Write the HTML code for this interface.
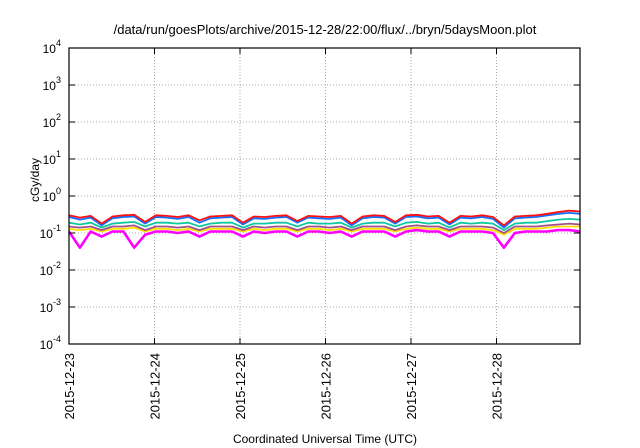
<!DOCTYPE html>
<html><head><meta charset="utf-8"><style>
html,body{margin:0;padding:0;background:#fff;}
svg{display:block;font-family:"Liberation Sans",sans-serif;}
</style></head><body>
<svg id="chart" width="640" height="448" viewBox="0 0 640 448">
<text x="325" y="34" font-size="13" text-anchor="middle">/data/run/goesPlots/archive/2015-12-28/22:00/flux/../bryn/5daysMoon.plot</text>
<g id="grid"></g>
<g id="series"></g>
<rect x="69" y="48" width="511" height="296" fill="none" stroke="#000" stroke-width="1.2"/>
<g id="axes"></g>
<text transform="translate(39,180) rotate(-90)" font-size="12" text-anchor="middle">cGy/day</text>
<text x="325" y="443" font-size="12" text-anchor="middle">Coordinated Universal Time (UTC)</text>
</svg>
<script>
const dayLabels=["2015-12-23","2015-12-24","2015-12-25","2015-12-26","2015-12-27","2015-12-28"];
const yExponents=[-4,-3,-2,-1,0,1,2,3,4];
const seriesColors=["#ff00ff","#ffe000","#a0508c","#10c8a0","#1070ff","#ff1010"];
const red=[0.30,0.26,0.29,0.18,0.28,0.30,0.31,0.20,0.30,0.29,0.27,0.30,0.22,0.28,0.29,0.30,0.19,0.28,0.27,0.29,0.30,0.21,0.29,0.28,0.27,0.29,0.18,0.28,0.30,0.29,0.20,0.30,0.31,0.28,0.29,0.19,0.29,0.28,0.30,0.27,0.16,0.28,0.29,0.30,0.33,0.37,0.40,0.38];
const blue=[0.27,0.23,0.26,0.16,0.25,0.27,0.28,0.18,0.27,0.26,0.24,0.27,0.19,0.25,0.26,0.27,0.17,0.25,0.24,0.26,0.27,0.19,0.26,0.25,0.24,0.26,0.16,0.25,0.27,0.26,0.18,0.27,0.28,0.25,0.26,0.17,0.26,0.25,0.27,0.24,0.14,0.25,0.26,0.27,0.30,0.33,0.35,0.33];
const green=[0.19,0.17,0.19,0.14,0.18,0.19,0.20,0.15,0.19,0.19,0.18,0.19,0.15,0.18,0.19,0.19,0.14,0.18,0.18,0.19,0.19,0.15,0.19,0.18,0.18,0.19,0.14,0.18,0.19,0.19,0.15,0.19,0.20,0.18,0.19,0.14,0.19,0.18,0.19,0.18,0.12,0.18,0.19,0.19,0.21,0.23,0.24,0.23];
const purple=[0.15,0.14,0.15,0.12,0.15,0.15,0.16,0.12,0.15,0.15,0.14,0.15,0.12,0.15,0.15,0.15,0.12,0.15,0.14,0.15,0.15,0.12,0.15,0.15,0.14,0.15,0.12,0.15,0.15,0.15,0.12,0.15,0.16,0.15,0.15,0.12,0.15,0.15,0.15,0.14,0.10,0.15,0.15,0.15,0.16,0.17,0.18,0.17];
const yellow=[0.13,0.12,0.13,0.11,0.13,0.13,0.14,0.11,0.13,0.13,0.12,0.13,0.11,0.13,0.13,0.13,0.11,0.13,0.12,0.13,0.13,0.11,0.13,0.13,0.12,0.13,0.11,0.13,0.13,0.13,0.11,0.13,0.14,0.13,0.13,0.11,0.13,0.13,0.13,0.12,0.09,0.13,0.13,0.13,0.14,0.15,0.15,0.15];
const magenta=[0.11,0.04,0.11,0.08,0.11,0.11,0.04,0.09,0.11,0.11,0.10,0.11,0.08,0.11,0.11,0.11,0.08,0.11,0.10,0.11,0.11,0.08,0.11,0.11,0.10,0.11,0.08,0.11,0.11,0.11,0.08,0.11,0.12,0.11,0.11,0.08,0.11,0.11,0.11,0.10,0.04,0.10,0.11,0.11,0.11,0.12,0.12,0.11];
const allSeries=[magenta,yellow,purple,green,blue,red];
const seriesNames=["series-magenta","series-yellow","series-purple","series-green","series-blue","series-red"];
const NS="http://www.w3.org/2000/svg";
const L=69,R=580,T=48,B=344,dayPx=85.5;
function xDay(d){return L+d*dayPx;}
function yLog(v){return B-(Math.log10(v)+4)/8*(B-T);}
const grid=document.getElementById('grid'),axes=document.getElementById('axes'),sg=document.getElementById('series');
function mk(tag,attrs,parent){const e=document.createElementNS(NS,tag);for(const k in attrs)e.setAttribute(k,attrs[k]);parent.appendChild(e);return e;}
yExponents.forEach(p=>{
  const y=yLog(Math.pow(10,p));
  if(p>-4&&p<4){const g=mk('line',{x1:L,x2:R,y1:y,y2:y,stroke:'#aaa','stroke-dasharray':'1,2','stroke-width':1},grid);
  
  }
  const t1=mk('line',{x1:L,x2:L+6,y1:y,y2:y,stroke:'#000'},axes);
  
  
  const t2=mk('line',{x1:R,x2:R-6,y1:y,y2:y,stroke:'#000'},axes);
  
  
  const tx=mk('text',{x:L-8,y:y+5,'font-size':12,'text-anchor':'end'},axes);
  
  
  tx.innerHTML='10<tspan dy="-7" font-size="9">'+p+'</tspan>';
});
dayLabels.forEach((lab,i)=>{
  const x=xDay(i);
  if(i>0){const g=mk('line',{x1:x,x2:x,y1:T,y2:B,stroke:'#aaa','stroke-dasharray':'1,2','stroke-width':1},grid);
  
  }
  const t1=mk('line',{x1:x,x2:x,y1:B,y2:B-6,stroke:'#000'},axes);
  
  
  const t2=mk('line',{x1:x,x2:x,y1:T,y2:T+6,stroke:'#000'},axes);
  
  
  const tx=mk('text',{transform:'translate('+(x+5)+','+(B+9)+') rotate(-90)','font-size':13,'text-anchor':'end'},axes);
  
  
  tx.textContent=lab;
});
allSeries.forEach((s,si)=>{
  const n=s.length,span=(R-L)/dayPx;
  const pts=s.map((v,i)=>xDay(i/(n-1)*span).toFixed(1)+','+yLog(v).toFixed(1)).join(' ');
  const pl=mk('polyline',{points:pts,fill:'none',stroke:seriesColors[si],'stroke-width':si===0?2.6:1.8,'stroke-linejoin':'round'},sg);
  
  
});
</script>
</body></html>
